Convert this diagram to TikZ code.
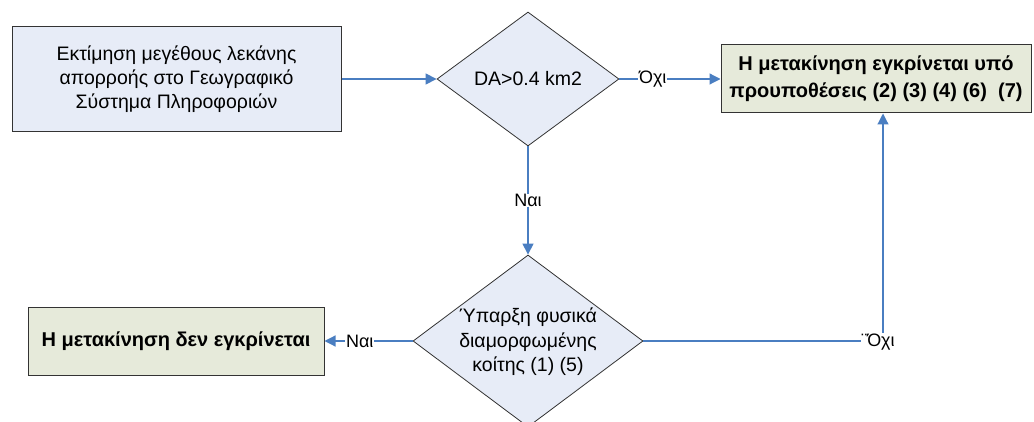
\documentclass[tikz,border=0pt]{standalone}
\usepackage{fontspec}
\setmainfont{Liberation Sans}
\usetikzlibrary{shapes.geometric,arrows.meta}
\definecolor{fillblue}{HTML}{E7ECF7}
\definecolor{fillgreen}{HTML}{E6EADA}
\definecolor{linkblue}{HTML}{4A7EC1}
\definecolor{edgegray}{HTML}{333333}
\begin{document}
\begin{tikzpicture}[x=1pt,y=-1pt,
 procbox/.style={draw=edgegray,line width=1pt,fill=fillblue,inner sep=0pt,align=center,font=\fontsize{19.5}{24}\selectfont},
 resbox/.style={draw=edgegray,line width=1pt,fill=fillgreen,inner sep=0pt,align=center,font=\fontsize{20}{27}\selectfont\bfseries},
 decision/.style={draw=edgegray,line width=0.8pt,fill=fillblue,shape=diamond,inner sep=0pt},
 body/.style={font=\fontsize{19.5}{24.5}\selectfont,align=center,inner sep=0pt},
 conn/.style={draw=linkblue,line width=1.2pt,-{Triangle[length=11pt,width=11pt]}},
 lbl/.style={font=\fontsize{18}{20}\selectfont,fill=white,inner sep=0.6pt}
]
\useasboundingbox (0,0) rectangle (1034,422);
\node[procbox,minimum width=329pt,minimum height=105pt] (b1) at (176.5,79)
  {Εκτίμηση μεγέθους λεκάνης\\απορροής στο Γεωγραφικό\\Σύστημα Πληροφοριών};
\node[decision,minimum width=182pt,minimum height=134pt] (d1) at (528,79) {};
\node[body] (t1) at (528,79) {DA>0.4 km2};
\node[resbox,minimum width=310pt,minimum height=68pt] (b2) at (876,79)
  {Η μετακίνηση εγκρίνεται υπό\\προυποθέσεις (2) (3) (4) (6)~~(7)};
\node[decision,minimum width=230pt,minimum height=172pt] (d2) at (528,341) {};
\node[body] (t2) at (528,342) {Ύπαρξη φυσικά\\διαμορφωμένης\\κοίτης (1) (5)};
\node[resbox,minimum width=296pt,minimum height=68pt] (b3) at (176,341)
  {Η μετακίνηση δεν εγκρίνεται};
\coordinate (c) at (883,341);
\draw[conn] (b1.east) -- (d1.west);
\draw[conn] (d1.east) -- node[lbl,pos=0.33] (l1) {Όχι} (b2.west);
\draw[conn] (d1.south) -- node[lbl,pos=0.5] (l2) {Ναι} (d2.north);
\draw[conn] (d2.west) -- node[lbl,pos=0.6] (l3) {Ναι} (b3.east);
\draw[conn] (d2.east) -- (c) -- (c |- b2.south);
\node[lbl] (l4) at (878,342) {¨Όχι};
\end{tikzpicture}
\end{document}
